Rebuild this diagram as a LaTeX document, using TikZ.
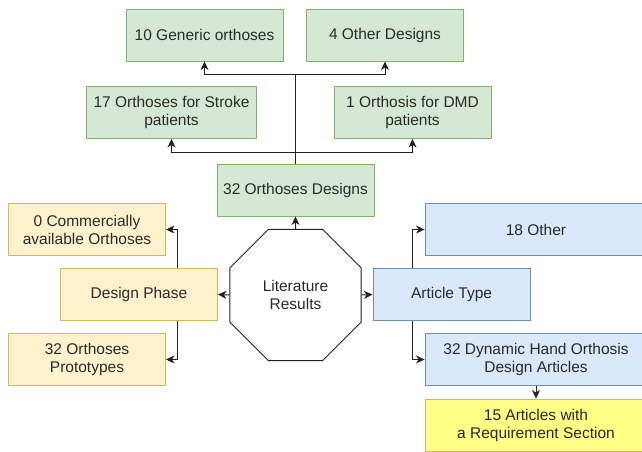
\documentclass[tikz,border=0pt]{standalone}
\usepackage{fontspec}
\setmainfont{Liberation Sans}
\usetikzlibrary{arrows.meta,shapes.geometric}
\definecolor{gfill}{HTML}{D5E8D4}\definecolor{gline}{HTML}{82B366}
\definecolor{ofill}{HTML}{FFF2CC}\definecolor{oline}{HTML}{D6B656}
\definecolor{bfill}{HTML}{DAE8FC}\definecolor{bline}{HTML}{6C8EBF}
\definecolor{yfill}{HTML}{FFFF88}\definecolor{yline}{HTML}{D6B656}
\definecolor{txt}{HTML}{2A2A2A}
\definecolor{edge}{HTML}{222222}
\tikzset{
  box/.style={rectangle, minimum height=52pt, inner sep=0pt, align=center,
    line width=0.9pt, text=txt, font=\fontsize{15.5}{18}\selectfont},
  gbox/.style={box, fill=gfill, draw=gline},
  obox/.style={box, fill=ofill, draw=oline},
  bbox/.style={box, fill=bfill, draw=bline},
  ybox/.style={box, fill=yfill, draw=yline},
  conn/.style={draw=edge, line width=1pt},
  arr/.style={conn, -{Stealth[length=8.5pt,width=8pt,inset=2.5pt]}}
}
\begin{document}
\begin{tikzpicture}[x=1pt,y=-1pt]
\useasboundingbox (0,0) rectangle (642,451);
% green
\node[gbox, minimum width=157pt] (generic) at (204.5,35) {10 Generic orthoses};
\node[gbox, minimum width=157pt] (other4) at (385,35) {4 Other Designs};
\node[gbox, minimum width=170pt] (stroke) at (171.5,112.5) {17 Orthoses for Stroke\\patients};
\node[gbox, minimum width=157pt] (dmd) at (412.5,112.5) {1 Orthosis for DMD\\patients};
\node[gbox, minimum width=157pt] (designs) at (295.5,190) {32 Orthoses Designs};
% orange
\node[obox, minimum width=157pt] (commercial) at (87,229.5) {0 Commercially\\available Orthoses};
\node[obox, minimum width=157pt] (phase) at (139,294.5) {Design Phase};
\node[obox, minimum width=157pt] (proto) at (87,359.5) {32 Orthoses\\Prototypes};
% blue
\node[bbox, minimum width=222pt] (other18) at (536,229.5) {18 Other};
\node[bbox, minimum width=157pt] (article) at (451.5,294.5) {Article Type};
\node[bbox, minimum width=222pt] (dynamic) at (536,359.5) {32 Dynamic Hand Orthosis\\Design Articles};
\node[ybox, minimum width=222pt] (req) at (536,425) {15 Articles with\\a Requirement Section};
% octagon
\node[regular polygon, regular polygon sides=8, minimum size=142pt, inner sep=0pt,
  draw=edge, line width=1pt, fill=white, align=center, text=txt,
  font=\fontsize{15.5}{18}\selectfont] (oct) at (295.5,295) {Literature\\Results};
% junctions
\coordinate (j1) at (295.5,74);
\coordinate (j2) at (295.5,152);
\coordinate (pcol) at (177,0);
\coordinate (acol) at (412,0);
% connectors
\draw[conn] (designs.north) -- (j1);
\draw[arr] (j1) -| (generic.south);
\draw[arr] (j1) -| (other4.south);
\draw[arr] (j2) -| (stroke.south);
\draw[arr] (j2) -| (dmd.south);
\draw[arr] (oct.north) -- (designs.south);
\draw[arr] (oct.west) -- (phase.east);
\draw[arr] (oct.east) -- (article.west);
\draw[arr] (pcol |- phase.north) |- (commercial.east);
\draw[arr] (pcol |- phase.south) |- (proto.east);
\draw[arr] (acol |- article.north) |- (other18.west);
\draw[arr] (acol |- article.south) |- (dynamic.west);
\draw[arr] (dynamic.south) -- (req.north);
\end{tikzpicture}
\end{document}
